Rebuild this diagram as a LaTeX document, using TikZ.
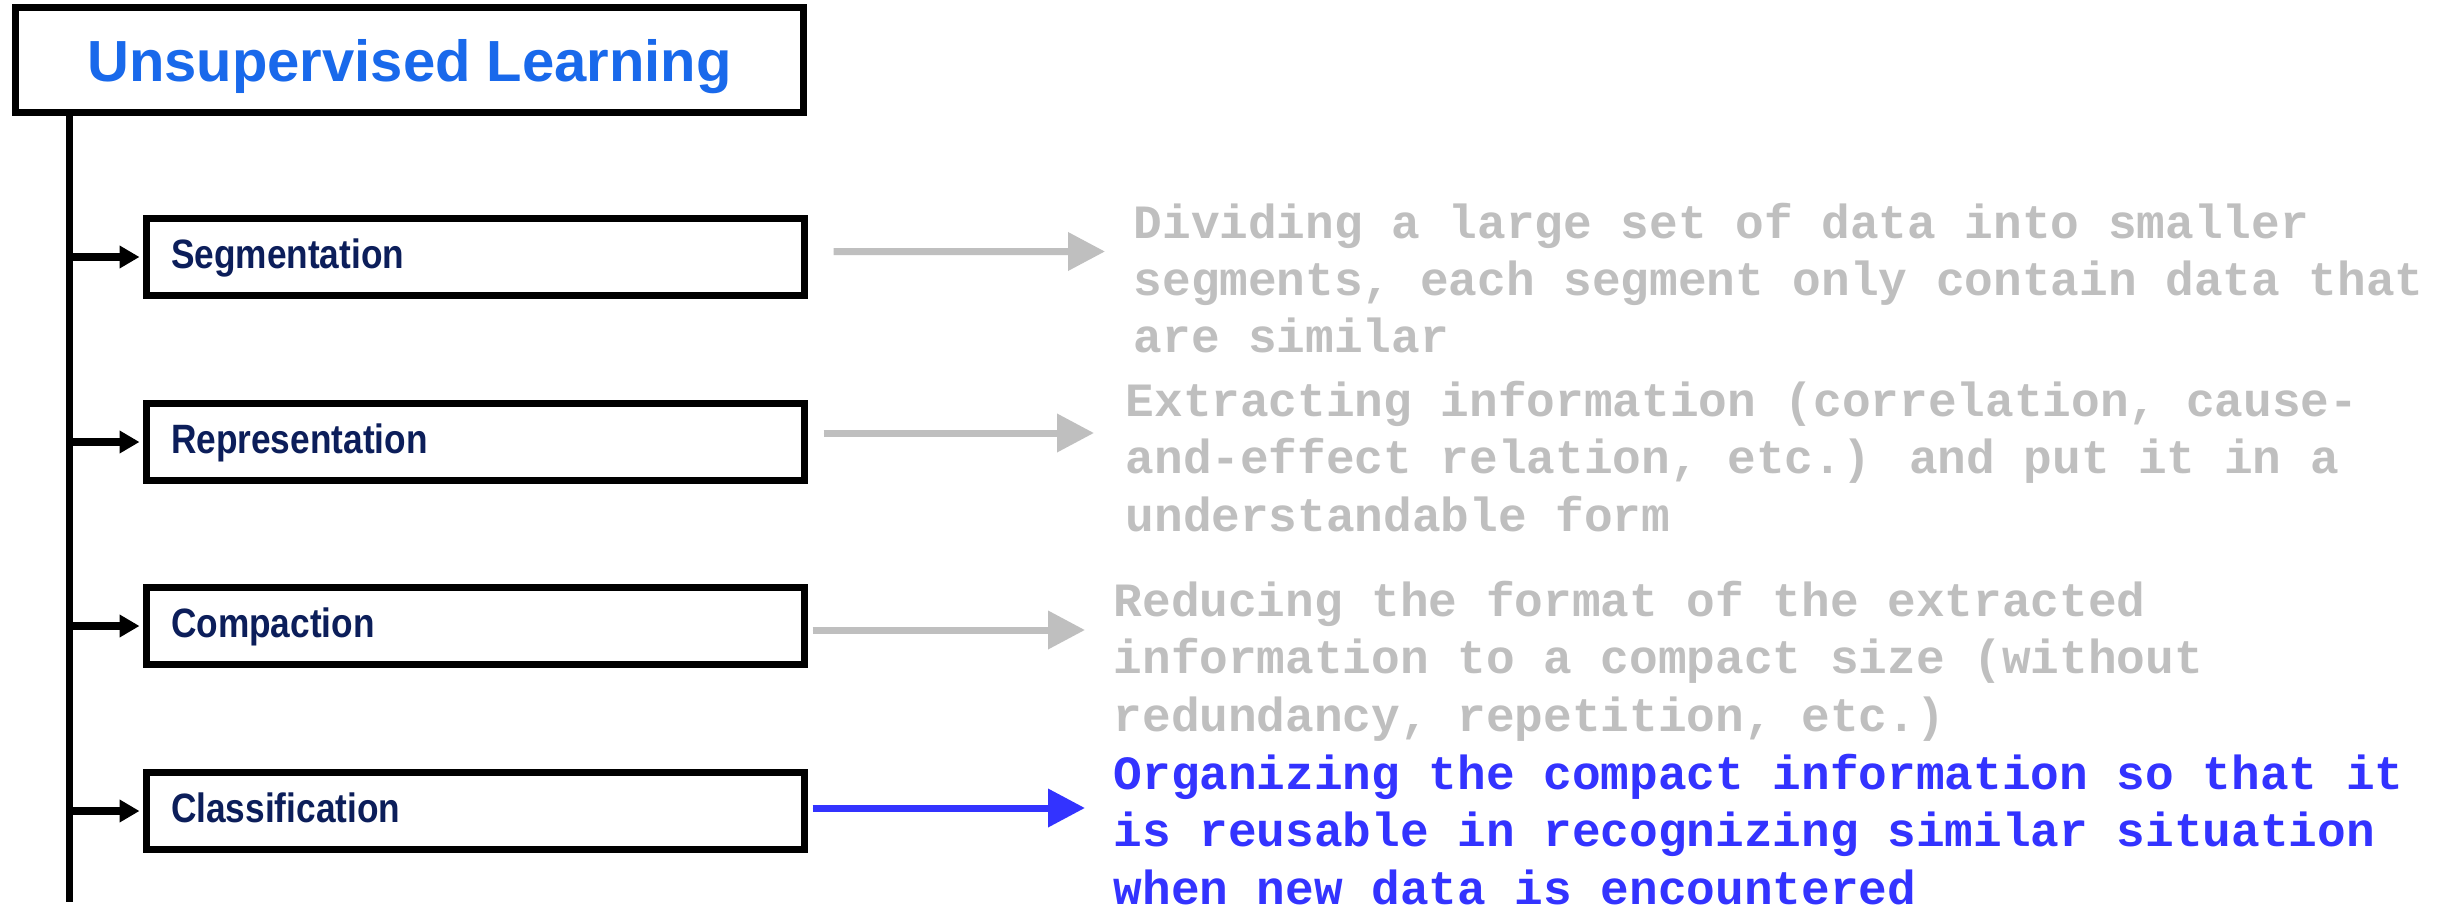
\documentclass[tikz,border=0pt]{standalone}
\usepackage{fontspec}
\setmainfont{Liberation Sans}
\newfontfamily\titlefont{Liberation Sans}
\newfontfamily\narrowfont[FakeStretch=0.86]{Liberation Sans}
\newfontfamily\descfont{Liberation Mono}
\usetikzlibrary{arrows.meta}

\definecolor{titleblue}{RGB}{25,105,235}
\definecolor{labelnavy}{RGB}{12,30,90}
\definecolor{descgray}{RGB}{191,191,191}
\definecolor{hiblue}{RGB}{51,51,255}

\tikzset{
  titlebox/.style={draw=black, line width=2.1pt, minimum width=236.4pt,
    minimum height=31.5pt, inner sep=0pt, text=titleblue,
    font=\titlefont\bfseries\fontsize{17.4pt}{20pt}\selectfont,
    text height=15.3pt, text depth=2.1pt},
  stepbox/.style={draw=black, line width=2.1pt, text width=182.7pt,
    inner xsep=7.35pt, inner ysep=0pt, minimum height=23.1pt, align=left,
    text=labelnavy,
    font=\narrowfont\bfseries\fontsize{12.3pt}{14pt}\selectfont,
    text height=9.47pt, text depth=2.83pt},
  desc/.style={anchor=base west, inner sep=0pt,
    font=\descfont\bfseries\fontsize{14.33pt}{17.25pt}\selectfont},
  trunk/.style={draw=black, line width=2.1pt},
  branch/.style={draw=black, line width=2.3pt,
    -{Triangle[length=6pt,width=6.5pt]}},
  leadarrow/.style={line width=2.1pt,
    -{Triangle[length=11.1pt,width=11.1pt]}}
}

\begin{document}
\begin{tikzpicture}[x=0.3pt, y=-0.3pt]
  \fill[white] (0,0) rectangle (2440,912);
  \useasboundingbox (0,0) rectangle (2440,912);

  % heading
  \node[titlebox] (title) at (409.5,60) {Unsupervised Learning};

  % the four stages
  \node[stepbox] (seg)  at (475.5,257) {Segmentation};
  \node[stepbox] (rep)  at (475.5,442) {Representation};
  \node[stepbox] (comp) at (475.5,626) {Compaction};
  \node[stepbox] (cls)  at (475.5,811) {Classification};

  % vertical spine with branches into each stage
  \coordinate (trunkend) at (69,902);
  \draw[trunk] (title.south -| trunkend) -- (trunkend);
  \foreach \b in {seg,rep,comp,cls}
    \draw[branch] (trunkend |- \b.west) -- ([xshift=-1.05pt]\b.west);

  % explanations
  \node[desc, text=descgray] (segd) at (1133,238) {\parbox[t]{400pt}{%
    Dividing a large set of data into smaller\\
    segments, each segment only contain data that\\
    are similar}};
  \node[desc, text=descgray] (repd) at (1125,416) {\parbox[t]{400pt}{%
    Extracting information (correlation, cause-\\
    and-effect relation, etc.) and put it in a\\
    understandable form}};
  \node[desc, text=descgray] (compd) at (1113,616) {\parbox[t]{400pt}{%
    Reducing the format of the extracted\\
    information to a compact size (without\\
    redundancy, repetition, etc.)}};
  \node[desc, text=hiblue] (clsd) at (1113,789) {\parbox[t]{400pt}{%
    Organizing the compact information so that it\\
    is reusable in recognizing similar situation\\
    when new data is encountered}};

  % arrows from stages to their explanations
  \draw[leadarrow, draw=descgray, fill=descgray]
    ([shift={(25.5,-5.5)}]seg.east) -- ([shift={(-28,13.5)}]segd.base west);
  \draw[leadarrow, draw=descgray, fill=descgray]
    ([shift={(15.5,-9)}]rep.east) -- ([shift={(-31,17)}]repd.base west);
  \draw[leadarrow, draw=descgray, fill=descgray]
    ([shift={(4.5,4)}]comp.east) -- ([shift={(-28,14)}]compd.base west);
  \draw[leadarrow, draw=hiblue, fill=hiblue]
    ([shift={(4.5,-3)}]cls.east) -- ([shift={(-28,19)}]clsd.base west);
\end{tikzpicture}
\end{document}
